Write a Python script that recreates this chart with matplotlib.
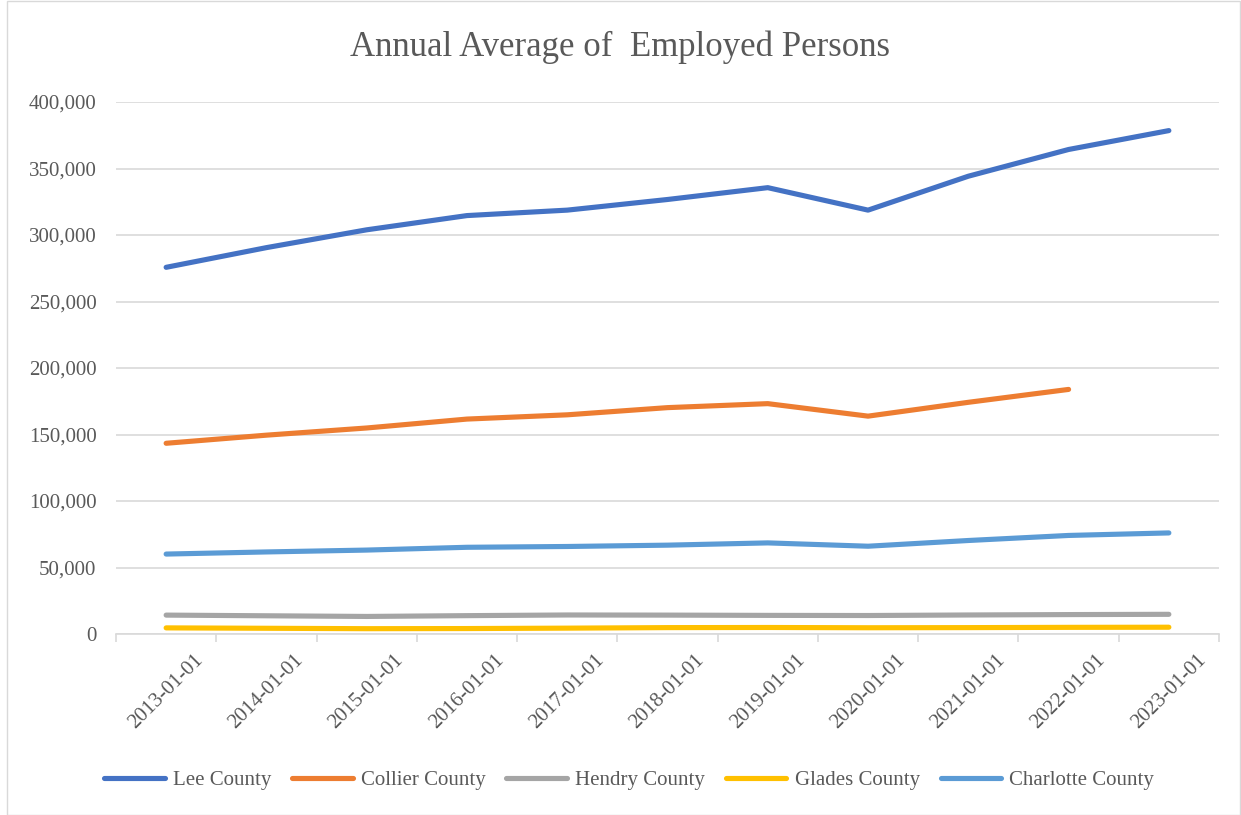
import matplotlib
matplotlib.use('Agg')
import matplotlib.pyplot as plt
from matplotlib.patches import Rectangle

# categories (x axis)
years = ['2013-01-01', '2014-01-01', '2015-01-01', '2016-01-01', '2017-01-01', '2018-01-01',
         '2019-01-01', '2020-01-01', '2021-01-01', '2022-01-01', '2023-01-01']

# annual average employed persons
lee = [275700, 290500, 303900, 314600, 318700, 326700, 335600, 318700, 344200, 364300, 378500]
collier = [143400, 149500, 154900, 161600, 164800, 170200, 173200, 163800, 174200, 183900]
hendry = [14200, 13700, 13200, 13800, 14300, 14200, 14000, 13900, 14300, 14600, 14800]
glades = [4600, 4300, 4000, 4100, 4400, 4800, 4900, 4700, 4800, 5000, 5100]
charlotte = [60100, 61700, 63100, 65200, 65800, 66800, 68500, 66000, 70300, 74100, 76000]

series = [('Lee County', lee, '#4472C4'),
          ('Collier County', collier, '#ED7D31'),
          ('Hendry County', hendry, '#A5A5A5'),
          ('Glades County', glades, '#FFC000'),
          ('Charlotte County', charlotte, '#5B9BD5')]

plt.rcParams['font.family'] = ['Liberation Serif', 'DejaVu Serif']
txt = '#595959'

fig = plt.figure(figsize=(12.41, 8.15), dpi=100)
ax = fig.add_axes([116/1241, 1-634/815, (1219-116)/1241, (634-102)/815])

for name, vals, col in series:
    ax.plot(range(len(vals)), vals, color=col, lw=3.7, label=name, solid_capstyle='round')

ax.set_xlim(-0.5, len(years)-0.5)
ax.set_ylim(0, 400000)
ax.set_yticks(range(0, 400001, 50000))
ax.set_yticklabels([f'{v:,}' for v in range(0, 400001, 50000)], color=txt, fontsize=15)
ax.yaxis.grid(True, color='#d9d9d9', lw=1.2)
ax.set_axisbelow(True)
ax.tick_params(axis='y', length=0, pad=14)

ax.set_xticks(range(len(years)))
ax.set_xticklabels(years, rotation=45, color=txt, fontsize=15)
ax.set_xticks([i-0.5 for i in range(len(years)+1)], minor=True)
ax.tick_params(axis='x', which='major', length=0, pad=12)
ax.tick_params(axis='x', which='minor', length=6, color='#d9d9d9', width=1.2)

for s in ['top', 'right', 'left']:
    ax.spines[s].set_visible(False)
ax.spines['bottom'].set_color('#d9d9d9')
ax.spines['bottom'].set_linewidth(1.2)

fig.text(0.5, 1-47/815, 'Annual Average of  Employed Persons', ha='center', va='center',
         fontsize=25, color=txt)

fig.legend(loc='center', bbox_to_anchor=(0.507, 1-780/815), ncol=5, frameon=False,
           fontsize=15, handlelength=2.9, columnspacing=1.0, handletextpad=0.4,
           labelcolor=txt)

fig.patches.append(Rectangle((7/1241, 0), 1-7/1241-1/1241, 1-1/815, transform=fig.transFigure,
                             fill=False, edgecolor='#d9d9d9', lw=1))

fig.savefig('out.png', dpi=100)
